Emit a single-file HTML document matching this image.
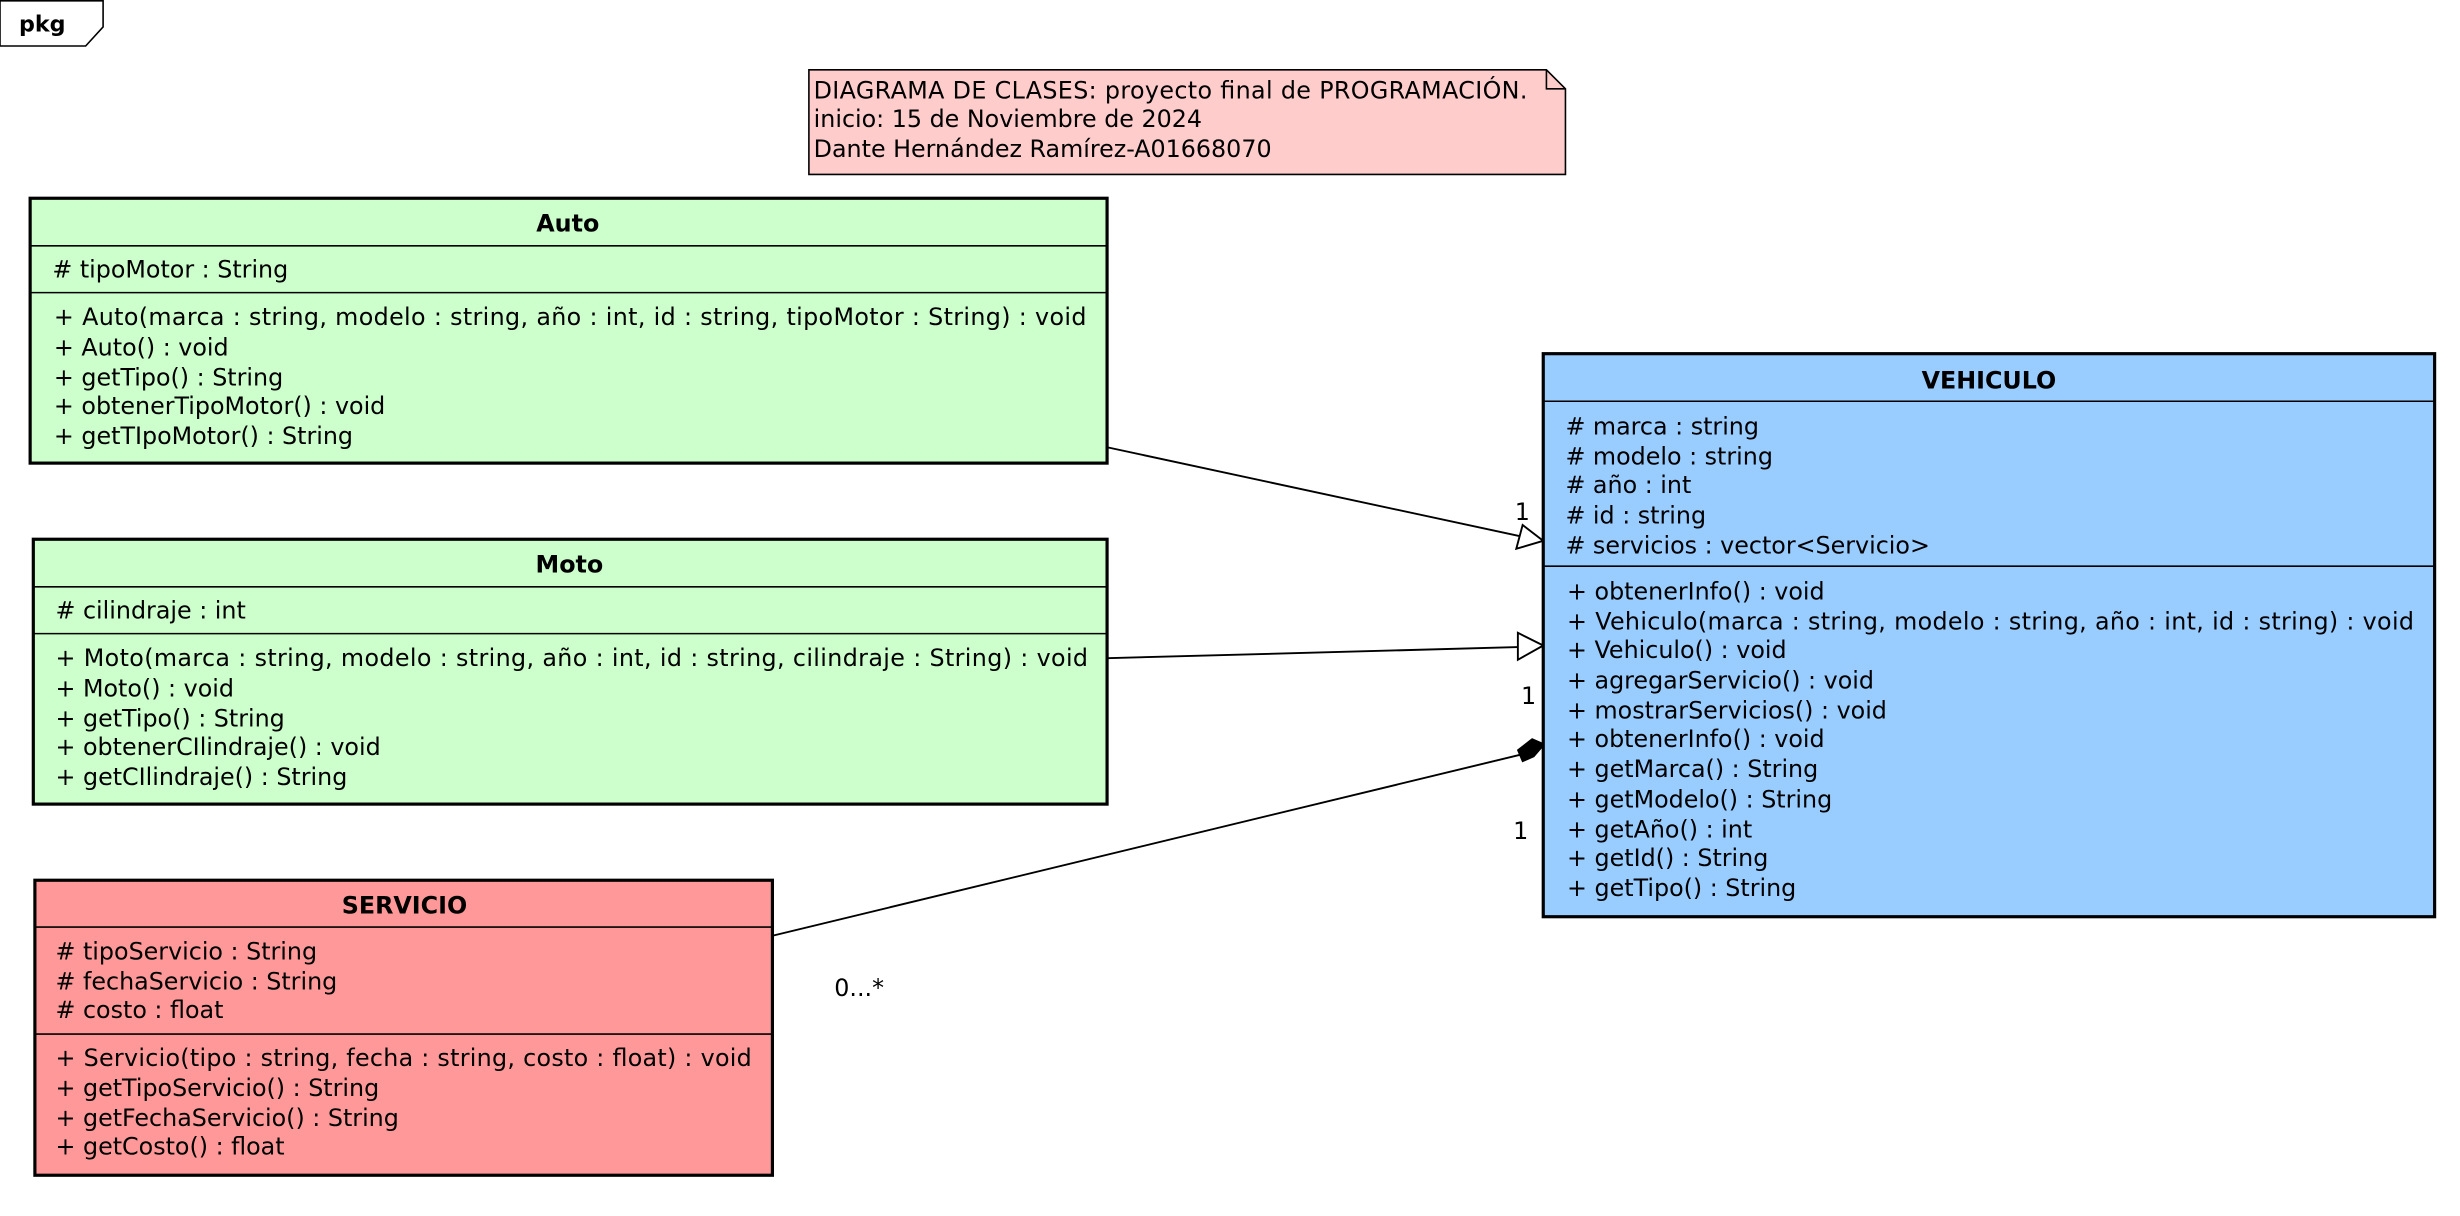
<!DOCTYPE html>
<html><head><meta charset="utf-8"><style>
html,body{margin:0;padding:0;background:#fff;width:2460px;height:1216px;overflow:hidden}
svg{display:block}
text{font-family:"DejaVu Sans","Liberation Sans",sans-serif;font-size:15px;fill:#000}
.b{font-weight:bold}
</style></head><body>
<svg width="2460" height="1216" viewBox="0 0 1551 766.7" preserveAspectRatio="none">
<polygon points="0,0.5 65,0.5 65,17 54,29 0,29" fill="#fff" stroke="#000" stroke-width="1"/>
<text x="12" y="20" class="b" style="font-size:14px">pkg</text>

<polygon points="510,44 975,44 987,56 987,110 510,110" fill="#ffcccc" stroke="#000" stroke-width="1"/>
<polyline points="975,44 975,56 987,56" fill="none" stroke="#000" stroke-width="1"/>
<text x="513" y="62" textLength="450" lengthAdjust="spacing">DIAGRAMA DE CLASES: proyecto final de PROGRAMACIÓN.</text>
<text x="513" y="80">inicio: 15 de Noviembre de 2024</text>
<text x="513" y="99">Dante Hernández Ramírez-A01668070</text>

<!-- connectors -->
<line x1="698" y1="282" x2="958" y2="338" stroke="#000" stroke-width="1.2"/>
<polygon points="973,341 956,346 960,331" fill="#fff" stroke="#000" stroke-width="1.2"/>
<line x1="698" y1="415" x2="957" y2="408" stroke="#000" stroke-width="1.2"/>
<polygon points="973,407 957,399 957,416" fill="#fff" stroke="#000" stroke-width="1.2"/>
<line x1="487" y1="590" x2="958" y2="476" stroke="#000" stroke-width="1.2"/>
<polygon points="973,469 966,466 957,473 960,480 967,477 973,470" fill="#000" stroke="#000" stroke-width="1"/>
<text x="955" y="328">1</text>
<text x="959" y="444">1</text>
<text x="954" y="529">1</text>
<text x="526" y="628">0...*</text>

<!-- Auto -->
<rect x="19" y="125" width="679" height="167" fill="#ccffcc" stroke="#000" stroke-width="2"/>
<line x1="19" y1="155" x2="698" y2="155" stroke="#000" stroke-width="1"/>
<line x1="19" y1="184.5" x2="698" y2="184.5" stroke="#000" stroke-width="1"/>
<text x="358" y="146" class="b" text-anchor="middle">Auto</text>
<text x="33" y="175">#&#160;tipoMotor : String</text>
<text x="34" y="205" textLength="651" lengthAdjust="spacing">+ Auto(marca : string, modelo : string, año : int, id : string, tipoMotor : String) : void</text>
<text x="34" y="224">+ Auto() : void</text>
<text x="34" y="243">+ getTipo() : String</text>
<text x="34" y="261">+ obtenerTipoMotor() : void</text>
<text x="34" y="280">+ getTIpoMotor() : String</text>

<!-- Moto -->
<rect x="21" y="340" width="677" height="167" fill="#ccffcc" stroke="#000" stroke-width="2"/>
<line x1="21" y1="370" x2="698" y2="370" stroke="#000" stroke-width="1"/>
<line x1="21" y1="399.5" x2="698" y2="399.5" stroke="#000" stroke-width="1"/>
<text x="359" y="361" class="b" text-anchor="middle">Moto</text>
<text x="35" y="390">#&#160;cilindraje : int</text>
<text x="35" y="420" textLength="651" lengthAdjust="spacing">+ Moto(marca : string, modelo : string, año : int, id : string, cilindraje : String) : void</text>
<text x="35" y="439">+ Moto() : void</text>
<text x="35" y="458">+ getTipo() : String</text>
<text x="35" y="476">+ obtenerCIlindraje() : void</text>
<text x="35" y="495">+ getCIlindraje() : String</text>

<!-- SERVICIO -->
<rect x="22" y="555" width="465" height="186" fill="#ff9999" stroke="#000" stroke-width="2"/>
<line x1="22" y1="584.5" x2="487" y2="584.5" stroke="#000" stroke-width="1"/>
<line x1="22" y1="652" x2="487" y2="652" stroke="#000" stroke-width="1"/>
<text x="255" y="576" class="b" text-anchor="middle">SERVICIO</text>
<text x="35" y="605">#&#160;tipoServicio : String</text>
<text x="35" y="624">#&#160;fechaServicio : String</text>
<text x="35" y="642">#&#160;costo : float</text>
<text x="35" y="672" textLength="439" lengthAdjust="spacing">+ Servicio(tipo : string, fecha : string, costo : float) : void</text>
<text x="35" y="691">+ getTipoServicio() : String</text>
<text x="35" y="710">+ getFechaServicio() : String</text>
<text x="35" y="728">+ getCosto() : float</text>

<!-- VEHICULO -->
<rect x="973" y="223" width="562" height="355" fill="#99ccff" stroke="#000" stroke-width="2"/>
<line x1="973" y1="253" x2="1535" y2="253" stroke="#000" stroke-width="1"/>
<line x1="973" y1="357" x2="1535" y2="357" stroke="#000" stroke-width="1"/>
<text x="1254" y="245" class="b" text-anchor="middle">VEHICULO</text>
<text x="987" y="274">#&#160;marca : string</text>
<text x="987" y="293">#&#160;modelo : string</text>
<text x="987" y="311">#&#160;año : int</text>
<text x="987" y="330">#&#160;id : string</text>
<text x="987" y="349">#&#160;servicios : vector&lt;Servicio&gt;</text>
<text x="988" y="378">+ obtenerInfo() : void</text>
<text x="988" y="397" textLength="534" lengthAdjust="spacing">+ Vehiculo(marca : string, modelo : string, año : int, id : string) : void</text>
<text x="988" y="415">+ Vehiculo() : void</text>
<text x="988" y="434">+ agregarServicio() : void</text>
<text x="988" y="453">+ mostrarServicios() : void</text>
<text x="988" y="471">+ obtenerInfo() : void</text>
<text x="988" y="490">+ getMarca() : String</text>
<text x="988" y="509">+ getModelo() : String</text>
<text x="988" y="528">+ getAño() : int</text>
<text x="988" y="546">+ getId() : String</text>
<text x="988" y="565">+ getTipo() : String</text>
</svg>
</body></html>
